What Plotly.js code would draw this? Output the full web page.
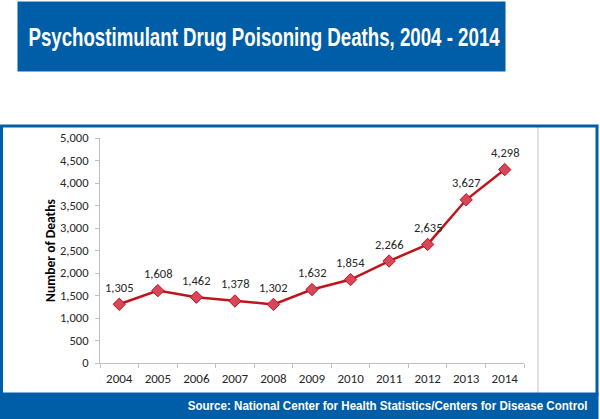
<!DOCTYPE html>
<html><head><meta charset="utf-8">
<script src="https://cdn.plot.ly/plotly-3.0.1.min.js"></script>
<style>html,body{margin:0;padding:0;background:#fff}#chart{width:600px;height:419px}</style>
</head><body><div id="chart"></div>
<script>
const years = ["2004","2005","2006","2007","2008","2009","2010","2011","2012","2013","2014"];
const deaths = [1305,1608,1462,1378,1302,1632,1854,2266,2635,3627,4298];
const yTicks = [0,500,1000,1500,2000,2500,3000,3500,4000,4500,5000];
const titleText = "Psychostimulant Drug Poisoning Deaths, 2004 - 2014";
const sourceText = "Source: National Center for Health Statistics/Centers for Disease Control";
const yTitle = "Number of Deaths";

const blue = "#005ea8";
const W = 600, H = 419;
const L = 100, R = 524, T = 138, B = 363;
const px = (x) => (x - L) / (R - L), py = (y) => (B - y) / (B - T);
const bannerFont = "'Liberation Sans', Arial, sans-serif";
const tickFamily = "Carlito, Lato, 'Open Sans', sans-serif";

const trace = {
  x: years, y: deaths, type: "scatter", mode: "lines+markers",
  line: {color: "#c0141c", width: 2.5},
  marker: {symbol: "diamond", size: 9.5, color: "#d6475a", line: {color: "#c0141c", width: 1}},
  cliponaxis: false, hoverinfo: "skip"
};

// data labels placed on the category axis by index (category i = years[i])
const dataLabels = years.map((yr, i) => ({
  x: i, y: deaths[i], xref: "x", yref: "y", showarrow: false,
  text: deaths[i].toLocaleString("en-US"), yanchor: "middle", yshift: 17,
  font: {family: tickFamily, size: 12.5, color: "#262626"}
}));

const layout = {
  width: W, height: H,
  margin: {l: L, r: W - R, t: T, b: H - B},
  paper_bgcolor: "#ffffff", plot_bgcolor: "#ffffff",
  showlegend: false,
  xaxis: {
    type: "category", range: [-0.5, 10.5], fixedrange: true,
    showline: true, linecolor: "#bfbfbf", linewidth: 1,
    ticks: "outside", tickson: "boundaries", ticklen: 4, tickcolor: "#bfbfbf",
    ticklabelstandoff: 3,
    showgrid: false, zeroline: false,
    tickfont: {family: tickFamily, size: 13, color: "#262626"}
  },
  yaxis: {
    range: [0, 5000], tickvals: yTicks, tickformat: ",", fixedrange: true,
    showline: true, linecolor: "#bfbfbf", linewidth: 1,
    ticks: "outside", ticklen: 4, tickcolor: "#bfbfbf",
    ticklabelstandoff: 4,
    showgrid: false, zeroline: false,
    tickfont: {family: tickFamily, size: 12.5, color: "#262626"},
    title: {text: yTitle, standoff: 1, font: {family: tickFamily, size: 13.5, color: "#000", weight: "bold"}}
  },
  shapes: [
    {type: "rect", xref: "paper", yref: "paper", x0: px(17.5), x1: px(505.5), y0: py(71.5), y1: py(1.5), fillcolor: blue, line: {width: 0}, layer: "below"},
    {type: "line", xref: "paper", yref: "paper", x0: px(538), x1: px(538), y0: py(127), y1: py(393), line: {color: "#d9d9d9", width: 1.5}, layer: "below"},
    {type: "rect", xref: "paper", yref: "paper", x0: px(0), x1: px(598.5), y0: py(419), y1: py(393), fillcolor: blue, line: {width: 0}},
    {type: "rect", xref: "paper", yref: "paper", x0: px(1.5), x1: px(597), y0: py(394), y1: py(126), fillcolor: "rgba(0,0,0,0)", line: {color: blue, width: 3}}
  ],
  annotations: [
    {xref: "paper", yref: "paper", x: px(264), y: py(36.5), xanchor: "center", yanchor: "middle", showarrow: false,
     text: "<b>" + titleText + "</b>", font: {family: bannerFont, size: 26, color: "#ffffff"}},
    {xref: "paper", yref: "paper", x: px(590), y: py(405.5), xanchor: "right", yanchor: "middle", showarrow: false,
     text: "<b>" + sourceText + "</b>", font: {family: bannerFont, size: 13.5, color: "#ffffff"}}
  ].concat(dataLabels)
};

// condensed look: horizontally squeeze the two banner texts to the reference widths
const targetWidths = [472, 400];
const anchors = ["center", "right"];
Plotly.newPlot("chart", [trace], layout, {displayModeBar: false, staticPlot: true}).then(gd => {
  const texts = gd.querySelectorAll(".annotation .annotation-text");
  [0, 1].forEach(i => {
    const t = texts[i];
    const bb = t.getBBox();
    const s = targetWidths[i] / bb.width;
    const cx = anchors[i] === "center" ? bb.x + bb.width / 2 : bb.x + bb.width;
    t.setAttribute("transform", `translate(${cx},0) scale(${s},1) translate(${-cx},0)`);
  });
});
</script></body></html>
